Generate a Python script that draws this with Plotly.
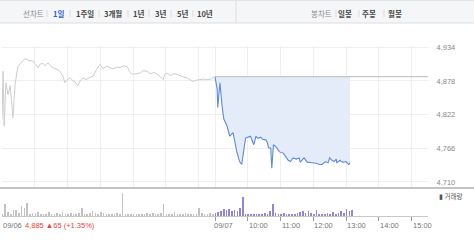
import plotly.graph_objects as go

# ---------------- data ----------------
# minutes since 09/06 09:00 ; day 2 (09/07) starts at 390
day1_t = [0, 2, 4, 7, 11, 15, 20, 24, 29, 37, 42, 49, 57, 62, 66, 70, 75, 79, 84, 88,
          93, 99, 106, 112, 115, 119, 125, 130, 134, 139, 143, 148, 154, 161, 167, 172,
          179, 185, 192, 198, 203, 211, 216, 223, 229, 234, 238, 245, 253, 258, 266, 271,
          278, 284, 289, 295, 298, 302, 308, 315, 320, 328, 333, 339, 344, 350, 355, 363,
          368, 375, 383, 388]
day1_p = [4814, 4894, 4803, 4875, 4855, 4870, 4817, 4872, 4902, 4910, 4915, 4912, 4911,
          4905, 4900, 4906, 4907, 4903, 4908, 4904, 4900, 4898, 4894, 4885, 4875, 4880,
          4883, 4878, 4876, 4870, 4878, 4883, 4880, 4884, 4886, 4895, 4905, 4899, 4902,
          4900, 4898, 4901, 4900, 4903, 4902, 4893, 4889, 4890, 4891, 4895, 4894, 4890,
          4892, 4889, 4886, 4880, 4889, 4891, 4887, 4890, 4889, 4886, 4884, 4883, 4880,
          4877, 4879, 4880, 4881, 4880, 4881, 4885]

day2_t = [390, 394, 395, 399, 403, 406, 412, 417, 423, 426, 430, 435, 439, 443, 446, 452,
          455, 461, 465, 468, 474, 477, 483, 486, 488, 492, 494, 497, 501, 503, 508, 515,
          521, 524, 528, 533, 539, 544, 546, 550, 553, 559, 566, 568, 575, 581, 586, 592,
          597, 600, 604, 608, 612, 613, 619, 621, 626, 630, 635, 637]
day2_p = [4885, 4864, 4834, 4875, 4836, 4815, 4803, 4786, 4792, 4775, 4760, 4744, 4739,
          4765, 4783, 4785, 4786, 4772, 4786, 4783, 4784, 4781, 4780, 4775, 4767, 4766,
          4733, 4772, 4768, 4767, 4760, 4758, 4750, 4746, 4744, 4750, 4748, 4750, 4743,
          4748, 4750, 4743, 4743, 4742, 4741, 4739, 4739, 4744, 4742, 4750, 4746, 4744,
          4748, 4742, 4746, 4744, 4743, 4744, 4739, 4742]

prev_close = 4885

# volume, 5-minute bars
vol1 = [8, 45, 15, 8, 22, 25, 12, 40, 30, 50, 8, 12, 10, 14, 6, 8, 5, 15, 6, 8,
        10, 6, 14, 8, 6, 10, 6, 8, 12, 30, 8, 6, 10, 18, 12, 8, 15, 10, 8, 6,
        8, 6, 10, 8, 88, 6, 5, 6, 8, 5, 8, 6, 8, 12, 8, 10, 6, 8, 12, 45,
        8, 6, 8, 14, 6, 8, 6, 10, 6, 8, 6, 8, 30, 10, 6, 8, 10, 6]
vol2 = [12, 15, 20, 28, 25, 28, 18, 22, 20, 30, 73, 8, 5, 6, 5, 6, 8, 6, 10, 8,
        18, 46, 10, 8, 6, 10, 8, 6, 8, 6, 10, 14, 18, 12, 20, 10, 6, 22, 8, 6,
        8, 10, 6, 14, 8, 10, 18, 12, 28, 20, 24]
vol1_t = [5 * i + 1 for i in range(len(vol1))]
vol2_t = [390 + 5 * i + 1 for i in range(len(vol2))]

y_ticks = [4710, 4766, 4822, 4878, 4934]
grid_x = [60, 120, 180, 240, 300, 360, 390, 450, 510, 570, 630, 690, 750]
time_tick_vals = [390, 450, 510, 570, 630, 690, 750]
time_tick_text = ["09/07", "10:00", "11:00", "12:00", "13:00", "14:00", "15:00"]

tabs_left = ["선차트", "1일", "1주일", "3개월", "1년", "3년", "5년", "10년"]
tabs_left_x = [33, 59, 85, 113, 138, 160, 182, 205]
tabs_right = ["봉차트", "일봉", "주봉", "월봉"]
tabs_right_x = [321, 345, 369, 395]

# ---------------- geometry helpers ----------------
W, H = 474, 240
ML, MR, MT, MB = 2, 46, 46, 24
PW = W - ML - MR
PH = H - MT - MB


def px(X):
    return (X - ML) / PW


def py(Y):
    return (H - MB - Y) / PH


main_bottom = py(188)
vol_top = py(190)

KFONT = "Noto Sans CJK KR, Noto Sans, sans-serif"
NFONT = "Liberation Sans, Arial, sans-serif"

fig = go.Figure()

fig.add_trace(go.Scatter(x=day1_t, y=day1_p, mode="lines",
                         line=dict(color="#cdcdcd", width=1), xaxis="x", yaxis="y",
                         hoverinfo="skip"))
fig.add_trace(go.Scatter(x=[day2_t[0], day2_t[-1]], y=[prev_close, prev_close], mode="lines",
                         line=dict(color="rgba(0,0,0,0)", width=0), xaxis="x", yaxis="y",
                         hoverinfo="skip"))
fig.add_trace(go.Scatter(x=day2_t, y=day2_p, mode="lines", fill="tonexty",
                         fillcolor="#e4ecfa", line=dict(color="#5f8bd4", width=1.1),
                         xaxis="x", yaxis="y", hoverinfo="skip"))
fig.add_trace(go.Scatter(x=[390, 780], y=[prev_close, prev_close], mode="lines",
                         line=dict(color="#b8b8b8", width=1), xaxis="x", yaxis="y",
                         hoverinfo="skip"))

fig.add_trace(go.Bar(x=vol1_t, y=vol1, width=1.1, marker=dict(color="#c2c2c2", line=dict(width=0)),
                     xaxis="x2", yaxis="y2", hoverinfo="skip"))
fig.add_trace(go.Bar(x=vol2_t, y=vol2, width=1.2, marker=dict(color="#8f88cf", line=dict(width=0)),
                     xaxis="x2", yaxis="y2", hoverinfo="skip"))

shapes = []
shapes.append(dict(type="rect", xref="paper", yref="paper", x0=px(0), x1=px(W), y0=py(23), y1=py(0),
                   fillcolor="#f5f6f8", line=dict(width=0), layer="below"))
shapes.append(dict(type="line", xref="paper", yref="paper", x0=px(0), x1=px(W), y0=py(23), y1=py(23),
                   line=dict(color="#dcdde0", width=1)))
shapes.append(dict(type="line", xref="paper", yref="paper", x0=px(0), x1=px(W), y0=py(0.5), y1=py(0.5),
                   line=dict(color="#e2e3e6", width=1)))
shapes.append(dict(type="line", xref="paper", yref="paper", x0=px(236), x1=px(236), y0=py(23), y1=py(0),
                   line=dict(color="#dcdde0", width=1)))
for sx in [47, 70, 99, 128, 149, 171, 193, 336, 359, 384]:
    shapes.append(dict(type="line", xref="paper", yref="paper", x0=px(sx), x1=px(sx), y0=py(17), y1=py(10),
                       line=dict(color="#dadbde", width=1)))
shapes.append(dict(type="line", xref="paper", yref="paper", x0=px(0), x1=px(W), y0=main_bottom, y1=main_bottom,
                   line=dict(color="#8a8a8a", width=1.2)))

annotations = []
for t, x in zip(tabs_left, tabs_left_x):
    if t == "선차트":
        col, txt = "#8c8c8c", t
    elif t == "1일":
        col, txt = "#2f5fc4", "<b>" + t + "</b>"
    else:
        col, txt = "#444444", "<b>" + t + "</b>"
    annotations.append(dict(text=txt, x=px(x), y=py(13), xref="paper", yref="paper",
                            xanchor="center", yanchor="middle",
                            showarrow=False, font=dict(size=7.5, color=col, family=KFONT)))
for t, x in zip(tabs_right, tabs_right_x):
    col = "#8c8c8c" if t == "봉차트" else "#444444"
    txt = t if t == "봉차트" else "<b>" + t + "</b>"
    annotations.append(dict(text=txt, x=px(x), y=py(13), xref="paper", yref="paper",
                            xanchor="center", yanchor="middle",
                            showarrow=False, font=dict(size=7.5, color=col, family=KFONT)))

annotations.append(dict(text="09/06", x=px(1), y=py(225), xref="paper", yref="paper", xanchor="left",
                        yanchor="middle", showarrow=False, font=dict(size=7.5, color="#777777", family=NFONT)))
annotations.append(dict(text="4,885 ▲65 (+1.35%)", x=px(23), y=py(225), xref="paper", yref="paper",
                        xanchor="left", yanchor="middle", showarrow=False,
                        font=dict(size=7.5, color="#e0483c", family=NFONT)))
for v, t in zip(time_tick_vals, time_tick_text):
    annotations.append(dict(text=t, x=v, y=py(225), xref="x2", yref="paper", xanchor="left",
                            yanchor="middle", xshift=-3 if t == "09/07" else -1,
                            showarrow=False, font=dict(size=7.5, color="#777777", family=NFONT)))
annotations.append(dict(text="▮ 거래량", x=px(437), y=py(196), xref="paper", yref="paper", xanchor="left",
                        yanchor="middle", showarrow=False, font=dict(size=6.5, color="#555555", family=KFONT)))

fig.update_layout(
    width=W, height=H, margin=dict(l=ML, r=MR, t=MT, b=MB),
    paper_bgcolor="white", plot_bgcolor="white", showlegend=False, bargap=0,
    xaxis=dict(domain=[0, 1], range=[0, 780], anchor="y", tickvals=grid_x, showticklabels=False,
               ticks="", showgrid=True, gridcolor="#efefef", gridwidth=1, zeroline=False, showline=False),
    yaxis=dict(domain=[main_bottom, 1], range=[4700, 4936], side="right", anchor="x",
               tickvals=y_ticks, ticktext=[f"{v:,}" for v in y_ticks], ticks="outside", ticklen=6,
               tickcolor="rgba(0,0,0,0)", tickfont=dict(size=7.5, color="#888888", family=NFONT),
               showgrid=True, gridcolor="#efefef", zeroline=False, showline=False),
    xaxis2=dict(domain=[0, 1], range=[0, 780], anchor="y2", tickvals=time_tick_vals, showticklabels=False,
                ticks="outside", ticklen=4, tickcolor="#999999", tickwidth=1, showgrid=False,
                zeroline=False, showline=True, linecolor="#c8c8c8", linewidth=1),
    yaxis2=dict(domain=[0, vol_top], range=[0, 100], visible=False),
    shapes=shapes, annotations=annotations,
)

fig.write_html("out.html")
